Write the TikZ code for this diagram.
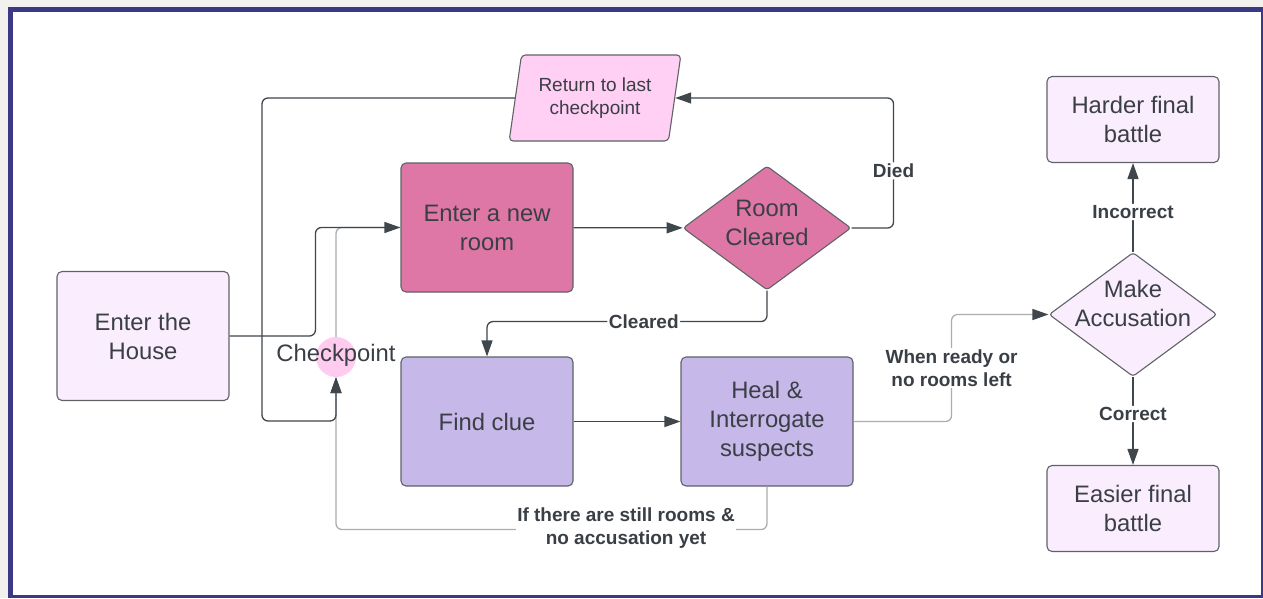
\documentclass[tikz,border=0pt]{standalone}
\usepackage{fontspec}
\setmainfont{Liberation Sans}
\usetikzlibrary{shapes.geometric,arrows.meta,positioning}

\definecolor{framebl}{HTML}{3C3886}
\definecolor{outbg}{HTML}{F3F1ED}
\definecolor{paleb}{HTML}{FAEDFD}
\definecolor{roompk}{HTML}{DF77A6}
\definecolor{retpk}{HTML}{FFD0F3}
\definecolor{clueprp}{HTML}{C6B8E9}
\definecolor{chkpk}{HTML}{FFCCEF}
\definecolor{linedk}{HTML}{3F464C}
\definecolor{linelt}{HTML}{A9AEB3}
\definecolor{txtdk}{HTML}{3A3F45}
\definecolor{shapeln}{HTML}{5F6368}

\tikzset{
  stepbox/.style={draw=shapeln, line width=1.1pt, rounded corners=5pt,
    minimum width=172pt, minimum height=129pt, align=center, text=txtdk,
    font=\fontsize{23.8}{29}\selectfont},
  endbox/.style={stepbox, minimum height=86pt, fill=paleb},
  choice/.style={diamond, draw=shapeln, line width=1.1pt, rounded corners=3pt,
    minimum width=168pt, minimum height=124pt, inner sep=0pt},
  choicetext/.style={align=center, text=txtdk, font=\fontsize{23.8}{29}\selectfont},
  lineto/.style={draw=linedk, line width=1.3pt, rounded corners=6pt},
  headed/.style={-{Triangle[length=16pt,width=11pt,color=linedk]}},
  lab/.style={fill=white, inner sep=1.5pt, align=center, text=txtdk,
    font=\fontsize{19}{23}\selectfont\bfseries}
}

\begin{document}
\begin{tikzpicture}[x=1pt,y=-1pt]
  \useasboundingbox (0,0) rectangle (1263,598);

  % Frame
  \fill[outbg] (0,0) rectangle (1263,598);
  \fill[white] (8,7) rectangle (1263,597.5);
  \fill[framebl] (8,7) rectangle (1263,12);
  \fill[framebl] (8,7) rectangle (13,597.5);
  \fill[framebl] (1260.5,7) rectangle (1263,597.5);
  \fill[framebl] (8,594.5) rectangle (1263,597.5);

  % Nodes
  \node[stepbox, fill=paleb] (house) at (143,336) {Enter the\\House};
  \node[stepbox, fill=roompk] (room) at (487,227.5) {Enter a new\\room};
  \node[choice, fill=roompk,
    label={[choicetext, yshift=5pt]center:Room\\Cleared}] (cleared) at (767,228) {};
  \node[trapezium, trapezium left angle=78, trapezium right angle=102,
    trapezium stretches=true, draw=shapeln, line width=1.1pt, rounded corners=4pt,
    fill=retpk, minimum width=172pt, minimum height=86pt, align=center, text=txtdk,
    font=\fontsize{19}{23}\selectfont] (ret) at (595,98) {Return to last\\checkpoint};
  \node[stepbox, fill=clueprp] (find) at (487,421.5) {Find clue};
  \node[stepbox, fill=clueprp] (heal) at (767,421.5) {Heal \&\\Interrogate\\suspects};
  \node[choice, fill=paleb,
    label={[choicetext, yshift=11pt]center:Make\\Accusation}] (acc) at (1133,314.5) {};
  \node[endbox] (harder) at (1133,119.5) {Harder final\\battle};
  \node[endbox] (easier) at (1133,508.5) {Easier final\\battle};
  \node[circle, fill=chkpk, minimum size=40pt, inner sep=0pt,
    label={[text=txtdk, font=\fontsize{23.8}{29}\selectfont, yshift=2pt]center:Checkpoint}] (chk) at (336,357) {};

  % Back to the rooms
  \draw[lineto, draw=linelt] (chk.north) |- (room.west);
  \draw[lineto, draw=linelt, headed] (heal.south) -- ++(0,43) -| (chk.south);
  \node[lab] (stillrooms) at (626,528.5) {If there are still rooms \&\\no accusation yet};
  \draw[lineto, headed] (house.east) -| ([xshift=-85pt]room.west) -- (room.west);
  \draw[lineto, headed] (ret.west) -| (262,421) -| (chk.south);

  % Room loop
  \draw[lineto, headed] (room) -- (cleared);
  \draw[lineto, headed] (cleared.east) -- ++(42,0) |- (ret.east) node[lab, pos=0.22] {Died};
  \draw[lineto, headed] (cleared.south) -- ++(0,31) -| (find.north) node[lab, pos=0.22] {Cleared};
  \draw[lineto, headed] (find) -- (heal);

  % Accusation
  \draw[lineto, draw=linelt, headed] (heal.east) -- ++(98,0) |- (acc.west)
    node[lab, pos=0.25] {When ready or\\no rooms left};
  \draw[lineto, headed] (acc) -- node[lab, pos=0.45] {Incorrect} (harder);
  \draw[lineto, headed] (acc) -- node[lab, pos=0.42] {Correct} (easier);
\end{tikzpicture}
\end{document}
